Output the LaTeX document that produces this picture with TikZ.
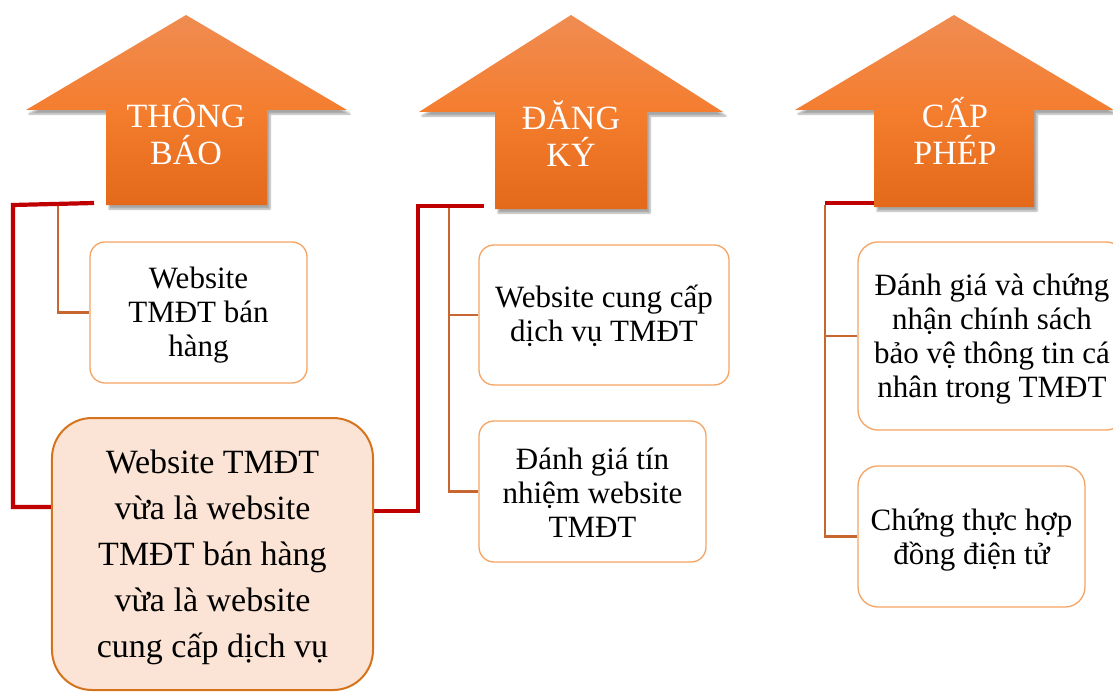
\documentclass[tikz,border=0pt]{standalone}
\usepackage{fontspec}
\setmainfont{Liberation Serif}
\usetikzlibrary{shadows.blur}
\definecolor{arTop}{HTML}{F08C52}
\definecolor{arMid}{HTML}{F47D2E}
\definecolor{arBot}{HTML}{E4691A}
\definecolor{boxLine}{HTML}{F5A463}
\definecolor{bigFill}{HTML}{FBE4D5}
\definecolor{bigLine}{HTML}{D5731C}
\definecolor{brownLine}{HTML}{C8662F}
\definecolor{redLine}{HTML}{C00000}
\tikzset{
  arrowfill/.style={top color=arTop, bottom color=arBot, middle color=arMid, draw=none,
    blur shadow={shadow xshift=3bp, shadow yshift=-4bp, shadow blur steps=6, shadow opacity=35}},
  arrowtext/.style={text=white, align=center, inner sep=0pt,
    font=\fontsize{34bp}{37bp}\selectfont},
  itembox/.style={draw=boxLine, line width=1.3bp, fill=white, rounded corners=15bp,
    align=center, inner sep=0pt, font=\fontsize{31bp}{34bp}\selectfont},
  itemtext/.style={align=center, inner sep=0pt, font=\fontsize{31bp}{34bp}\selectfont},
  bigbox/.style={draw=bigLine, line width=2bp, fill=bigFill, rounded corners=40bp,
    align=center, inner sep=0pt},
  bigtext/.style={align=center, inner sep=0pt, font=\fontsize{34bp}{46bp}\selectfont},
  brownconn/.style={draw=brownLine, line width=2.5bp},
  redconn/.style={draw=redLine, line width=4.2bp}
}
\begin{document}
\begin{tikzpicture}[x=1bp,y=-1bp]
\useasboundingbox (0,0) rectangle (1113,692);
\clip (0,0) rectangle (1113,692);

% arrows
\path[arrowfill] (186,15) -- (347,110) -- (267,110) -- (267,205) -- (106,205) -- (106,110) -- (26,110) -- cycle;
\path[arrowfill] (571,15) -- (723,112) -- (647,112) -- (647,209) -- (495,209) -- (495,112) -- (419,112) -- cycle;
\path[arrowfill] (954,15) -- (1114,110) -- (1034,110) -- (1034,207) -- (874,207) -- (874,110) -- (795,110) -- cycle;

\node[arrowtext] (a1) at (186,132) {THÔNG\\BÁO};
\node[arrowtext] (a2) at (571,134) {ĐĂNG\\KÝ};
\node[arrowtext] (a3) at (955,131) {CẤP\\PHÉP};

% boxes
\node[itembox, minimum width=217bp, minimum height=141bp] (b1) at (198.5,312.5) {};
\node[itemtext] (t1x) at (198.5,315.5) {Website\\TMĐT bán\\hàng};
\node[bigbox, minimum width=321bp, minimum height=272bp] (big) at (212.5,554) {};
\node[bigtext] (bigt) at (212.5,557) {Website TMĐT\\vừa là website\\TMĐT bán hàng\\vừa là website\\cung cấp dịch vụ};
\node[itembox, minimum width=250bp, minimum height=140bp] (b2a) at (604,315) {};
\node[itemtext] (t2a) at (604,316) {Website cung cấp\\dịch vụ TMĐT};
\node[itembox, minimum width=227bp, minimum height=141bp] (b2b) at (592.5,491.5) {};
\node[itemtext] (t2b) at (592.5,493) {Đánh giá tín\\nhiệm website\\TMĐT};
\node[itembox, rounded corners=20bp, minimum width=268bp, minimum height=188bp] (b3a) at (992,336) {};
\node[itemtext] (t3a) at (992,339.5) {Đánh giá và chứng\\nhận chính sách\\bảo vệ thông tin cá\\nhân trong TMĐT};
\node[itembox, rounded corners=20bp, minimum width=227bp, minimum height=141bp] (b3b) at (971.5,536.5) {};
\node[itemtext] (t3b) at (971.5,540) {Chứng thực hợp\\đồng điện tử};

% connector anchors
\coordinate (t1) at (58,205);
\coordinate (t2) at (449,208);
\coordinate (t3) at (825,205);
\coordinate (r1s) at (94,203);
\coordinate (r1c) at (13,205);
\coordinate (r2c) at (418,206);
\coordinate (r2e) at (484,206);
\coordinate (r3s) at (825,203);
\coordinate (r3e) at (874,203);

% brown connectors
\draw[brownconn] (t1) |- (b1.west);
\draw[brownconn] (t2) |- (b2b.west);
\draw[brownconn] (b2a.west) -- (b2a.west -| t2);
\draw[brownconn] (t3) |- (b3b.west);
\draw[brownconn] (b3a.west) -- (b3a.west -| t3);

% red connectors
\draw[redconn] (r1s) -- (r1c) |- ([yshift=47bp]big.west);
\draw[redconn] ([yshift=43bp]big.east) -| (r2c) -- (r2e);
\draw[redconn] (r3s) -- (r3e);
\end{tikzpicture}
\end{document}
